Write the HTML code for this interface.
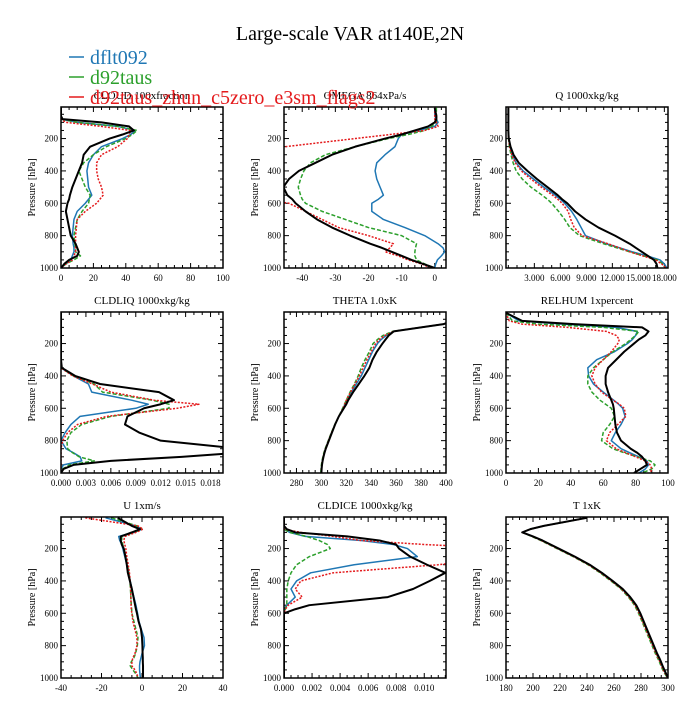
<!DOCTYPE html>
<html><head><meta charset="utf-8"><style>
html,body{margin:0;padding:0;background:#fff;}
svg text{font-family:"Liberation Serif",serif;}
</style></head><body>
<svg id="chart" width="700" height="700" viewBox="0 0 700 700" xmlns="http://www.w3.org/2000/svg">
<rect width="700" height="700" fill="#fff"/>
<text x="350" y="40" text-anchor="middle" font-size="20">Large-scale VAR at140E,2N</text>
<g id="panels"></g>
<g>
<g><line x1="69" y1="57" x2="84" y2="57" stroke="#1f77b4" stroke-width="1.5"/><text x="90" y="64" font-size="20" fill="#1f77b4">dflt092</text></g>
<g><line x1="69" y1="77" x2="84" y2="77" stroke="#2ca02c" stroke-width="1.5"/><text x="90" y="84" font-size="20" fill="#2ca02c">d92taus</text></g>
<g><line x1="69" y1="97" x2="84" y2="97" stroke="#e41a1c" stroke-width="1.5"/><text x="90" y="104" font-size="20" fill="#e41a1c">d92taus_zhun_c5zero_e3sm_flags2</text></g>
</g>
</svg>
<script>
const levels = [10,60,80,100,125,150,175,200,250,300,350,400,450,500,550,575,600,650,700,750,800,850,875,900,925,950,975,1000];

const cloudBlack = [0,0,1,25,42,45,38,30,18,14,13,11,9,7,5.5,5,4,3,4,5,6,9,10,11,10,5,2,0];
const cloudBlue  = [0,0,0,10,35,46,43,38,25,20,17,16,16.5,17,19,17,15,10,8,7.5,7,7.5,8,8,7,6,3,0];
const cloudGreen = [0,0,0,10,35,47,44,40,28,20,14,11,13,15,18,17.5,17,13,10,9,8,8.5,9,9,12,8,3,0];
const cloudRed   = [0,0,0,3,25,43,42,41,35,25,22,22,23,25,26,24,22,15,10,9.5,9,9,9,9,8,7,3,0];

const omegaBlack = [0,0.5,0.5,0,-2,-6,-10,-15,-24,-31,-36,-41,-44,-45.7,-44.5,-43,-42,-39,-35.5,-31,-25.5,-19.5,-16,-13,-10,-7,-3.5,0];
const omegaBlue  = [0,0,0.5,1,0,-5,-10,-11,-12,-15,-17.5,-18,-17.5,-16.5,-15.5,-17,-19,-19,-15.5,-9,-3,1,2.5,3,2,0.8,0.3,0];
const omegaGreen = [0.5,0.5,0.5,0.5,-1,-3,-8,-14,-24,-33,-37.5,-39.5,-40.5,-41.2,-40.5,-40,-39,-34,-27,-20,-10,-5.5,-5.8,-6,-6,-5.5,-3,0];
const omegaRed   = [0,0,0,0.5,1,-3,-13.5,-24,-45,-65,-65,-65,-65,-65,-60,-52,-44,-39,-34,-29,-20,-12.5,-13.5,-15,-11,-8,-4,-1];

const qBlack = [0,0,0,0,0,0,0.02,0.05,0.25,0.6,1.2,2.2,3.3,4.5,5.7,6.2,6.8,7.7,8.9,10.4,12.3,14.0,14.7,15.4,16.1,16.8,17.1,17.2];
const qBlue  = [0,0,0,0,0,0,0.01,0.03,0.2,0.45,0.9,1.7,2.9,4.1,5.4,6.0,6.5,7.3,7.9,8.4,8.9,11.3,12.8,14.3,16.0,17.5,18.0,18.3];
const qGreen = [0,0,0,0,0,0,0.01,0.02,0.12,0.3,0.55,0.9,1.6,2.6,3.9,4.5,5.0,5.8,6.5,7.1,8.2,11.0,12.5,14.0,15.6,17.2,17.8,18.1];
const qRed   = [0,0,0,0,0,0,0.01,0.02,0.15,0.4,0.8,1.5,2.6,3.8,5.1,5.7,6.2,6.9,7.2,7.6,8.5,11.5,12.8,14.0,15.5,17.0,17.7,18.2];

const liqBlack = [0,0,0,0,0,0,0,0,0,0,0.0001,0.0017,0.0047,0.0118,0.0136,0.0120,0.0100,0.0080,0.0077,0.0094,0.0120,0.0215,0.0215,0.0145,0.0060,0.0015,0.0003,0];
const liqBlue  = [0,0,0,0,0,0,0,0,0,0,0,0.0015,0.0033,0.0037,0.0085,0.0105,0.0090,0.0023,0.0012,0.0005,0,0.0006,0.0015,0.0023,0.0025,0.0003,0,0];
const liqGreen = [0,0,0,0,0,0,0,0,0,0,0,0.0015,0.0040,0.0050,0.0110,0.0130,0.0130,0.0060,0.0025,0.0012,0.0007,0.0008,0.0014,0.0022,0.0040,0.0010,0.0002,0];
const liqRed   = [0,0,0,0,0,0,0,0,0,0,0,0.0014,0.0038,0.0060,0.0112,0.0166,0.0140,0.0055,0.0020,0.0008,0.0002,0,0,0,0,0,0,0];

const thetaBlack = [440,405,398,380,358,354,351.5,349,344.5,341,338.5,334.5,330,325.5,321.5,320,318,314,311,308.5,306,303.5,302.5,301.7,301,300.5,300.2,300];
const thetaBlue  = [440,405,398,380,358,352,348,345,341,338,335,332,328,324,320.5,319,317.5,314,311,308.2,305.7,303.3,302.3,301.5,300.8,300.3,300,299.8];
const thetaGreen = [440,405,398,380,357,349.5,345,341.5,338.5,335,332,329.5,326.5,323,320,318.5,317,314,310.8,308,305.5,303,302,301.2,300.5,300,299.7,299.5];
const thetaRed   = [440,405,398,380,358,351,346.5,343.5,340,336.5,333.5,330.5,327,323.5,320,318.8,317.5,314,311,308.2,305.7,303.3,302.3,301.5,300.8,300.3,300,299.8];

const rhBlack = [0,10,42,84,88,86,82,79,73,68,63,61.5,61.5,63,65,66,66.5,67,67.5,68.5,71,77,81,84,86,87,83,79];
const rhBlue  = [0,8,35,68,81,80,78,75,67,56,50.5,51,54,60,66.5,69.5,72,73.5,71,67.5,65,71,76.5,82,87,88,86,82];
const rhGreen = [0,4,20,60,82,80,77,74,66,60,54,50.5,50.5,53,58,61.5,65,67,64,60,59,66,73,81,89,92,90,84];
const rhRed   = [0,2,10,38,62,68,70,69,65,60,55,53,55,59,66,70,73,74,69,64,62,68,74,80,86,89,90,89];

const uBlack = [-12,-5,-1,-5,-10.5,-10.5,-10,-9,-8.2,-7.5,-7,-6,-5,-4.2,-3.4,-3,-2.5,-1.7,-0.5,0,0.2,0.3,0.4,0.4,0.5,0.5,0.5,0.5];
const uBlue  = [-18,-3,0,-4,-11.5,-11,-10,-9.5,-8.5,-7.5,-6.5,-5.8,-5,-4,-3,-2.6,-2.2,-1.5,-0.3,1,1.2,0,-0.5,-1,-1.2,-1.2,-1,-0.8];
const uGreen = [-15,-2.5,0,-4,-10,-10,-9.5,-9,-8,-7.2,-6.5,-6,-5.7,-5.5,-5.3,-5.1,-5,-4,-3,-2,-2.3,-3.2,-4,-5.3,-5.8,-4.5,-3,-2];
const uRed   = [-28,-2,0.5,-3,-8.5,-9,-8.5,-8,-7.5,-6.8,-6.2,-5.8,-5.6,-5.5,-5.4,-5.3,-5,-4.5,-3.5,-2.5,-2.5,-3.5,-4.5,-5,-5,-3.5,-2.5,-2];

const iceBlack = [0,0,0.0002,0.0008,0.0045,0.0068,0.0080,0.0082,0.0090,0.0102,0.0115,0.0104,0.0092,0.0074,0.0018,0.0008,0,0,0,0,0,0,0,0,0,0,0,0];
const iceBlue  = [0,0,0,0.0004,0.0015,0.0055,0.0078,0.0088,0.0095,0.0050,0.0019,0.0009,0.0005,0.0008,0.0002,0,0,0,0,0,0,0,0,0,0,0,0,0];
const iceGreen = [0,0,0,0.0004,0.0016,0.0025,0.0031,0.0033,0.0018,0.0009,0.0005,0.0003,0.0002,0.0002,0.0002,0.0001,0,0,0,0,0,0,0,0,0,0,0,0];
const iceRed   = [0,0,0,0.0012,0.0035,0.0055,0.0100,0.0160,0.0160,0.0110,0.0035,0.0012,0.0008,0.0013,0.0003,0.0001,0,0,0,0,0,0,0,0,0,0,0,0];

const tBlack = [240,208,198,192,200,207,213,219,231,242,251,259,266.5,272,276.5,278,279.5,282,284.5,287,289.5,292,293.5,294.8,296,297.3,298.7,300];
const tBlue  = [240,208,198,192,199.6,206.6,212.6,218.6,230.6,241.6,250.6,258.6,266.1,271.6,276.1,277.6,279.1,281.6,284.1,286.6,289.1,291.6,293.1,294.4,295.6,296.9,298.4,299.8];
const tGreen = [240,208,198,192,199,205.7,211.7,217.7,229.7,240.7,249.7,257.7,265.2,270.7,275.2,276.7,278.2,280.7,283.2,285.7,288.2,290.7,292.2,293.6,294.8,296.1,297.8,299.6];
const tRed   = [240,208,198,192,199.4,206.2,212.2,218.2,230.2,241.2,250.2,258.2,265.7,271.2,275.7,277.2,278.7,281.2,283.7,286.2,288.7,291.2,292.7,294.0,295.2,296.5,298.1,299.7];

const cloudTicks = ["0","20","40","60","80","100"];
const omegaTicks = ["-40","-30","-20","-10","0"];
const qTicks = ["3.000","6.000","9.000","12.000","15.000","18.000"];
const liqTicks = ["0.000","0.003","0.006","0.009","0.012","0.015","0.018"];
const thetaTicks = ["280","300","320","340","360","380","400"];
const rhTicks = ["0","20","40","60","80","100"];
const uTicks = ["-40","-20","0","20","40"];
const iceTicks = ["0.000","0.002","0.004","0.006","0.008","0.010"];
const tTicks = ["180","200","220","240","260","280","300"];
const pTicks = [200,400,600,800,1000];

const NS = "http://www.w3.org/2000/svg";
const W = 162, H = 161, P_TOP = 5, P_BOT = 1000;
const COL = {blue:"#1f77b4", green:"#2ca02c", red:"#e41a1c", black:"#000"};

const panels = [
 {name:"cloud", title:"CLOUD  100xfraction", x:61, y:107, xmin:0, xmax:100, ticks:cloudTicks, minor:5, s:[cloudBlue,cloudGreen,cloudRed,cloudBlack]},
 {name:"omega", title:"OMEGA  864xPa/s", x:284, y:107, xmin:-45.5, xmax:3.4, ticks:omegaTicks, minor:2, s:[omegaBlue,omegaGreen,omegaRed,omegaBlack]},
 {name:"q", title:"Q  1000xkg/kg", x:506, y:107, xmin:-0.27, xmax:18.42, ticks:qTicks, minor:1, s:[qBlue,qGreen,qRed,qBlack]},
 {name:"cldliq", title:"CLDLIQ  1000xkg/kg", x:61, y:312, xmin:0, xmax:0.0195, ticks:liqTicks, minor:0.001, s:[liqBlue,liqGreen,liqRed,liqBlack]},
 {name:"theta", title:"THETA  1.0xK", x:284, y:312, xmin:270, xmax:400, ticks:thetaTicks, minor:5, s:[thetaBlue,thetaGreen,thetaRed,thetaBlack]},
 {name:"relhum", title:"RELHUM  1xpercent", x:506, y:312, xmin:0, xmax:100, ticks:rhTicks, minor:5, s:[rhBlue,rhGreen,rhRed,rhBlack]},
 {name:"u", title:"U  1xm/s", x:61, y:517, xmin:-40, xmax:40, ticks:uTicks, minor:5, s:[uBlue,uGreen,uRed,uBlack]},
 {name:"cldice", title:"CLDICE  1000xkg/kg", x:284, y:517, xmin:0, xmax:0.01155, ticks:iceTicks, minor:0.0005, s:[iceBlue,iceGreen,iceRed,iceBlack]},
 {name:"t", title:"T  1xK", x:506, y:517, xmin:180, xmax:300, ticks:tTicks, minor:5, s:[tBlue,tGreen,tRed,tBlack]}
];
const seriesNames = ["dflt092","d92taus","d92taus-zhun","reference"];
const seriesCol = [COL.blue, COL.green, COL.red, COL.black];
const seriesDash = ["", "4,2", "2,1.5", ""];
const seriesW = [1.5,1.5,1.5,2];

function mk(tag, attrs, parent){ const e=document.createElementNS(NS,tag); for(const k in attrs) e.setAttribute(k,attrs[k]); parent.appendChild(e); return e; }

const root = document.getElementById("panels");
panels.forEach((pn, idx) => {
  const xs = v => pn.x + (v - pn.xmin) / (pn.xmax - pn.xmin) * W;
  const ys = p => pn.y + (p - P_TOP) / (P_BOT - P_TOP) * H;
  const g = mk("g", {}, root);
  
  
  const t = mk("text", {x: pn.x + W/2, y: pn.y - 8, "text-anchor":"middle", "font-size":"11"}, g);
  t.textContent = pn.title;
  
  
  const cp = mk("clipPath", {id:"clip"+idx}, g);
  mk("rect", {x:pn.x, y:pn.y, width:W, height:H}, cp);
  // ticks
  const tg = mk("g", {stroke:"#000", "stroke-width":"1"}, g);
  
  
  const first = Math.ceil(pn.xmin / pn.minor);
  for (let k = first; k * pn.minor <= pn.xmax + 1e-12; k++) {
    const v = k * pn.minor, X = xs(v);
    const isMajor = pn.ticks.some(s => Math.abs(parseFloat(s) - v) < pn.minor * 0.01);
    const L = isMajor ? 5 : 3;
    mk("line", {x1:X, y1:pn.y+H, x2:X, y2:pn.y+H-L}, tg);
    mk("line", {x1:X, y1:pn.y, x2:X, y2:pn.y+L}, tg);
  }
  for (let p = 50; p <= 1000; p += 50) {
    const Y = ys(p), L = (p % 200 === 0) ? 5 : 3;
    mk("line", {x1:pn.x, y1:Y, x2:pn.x+L, y2:Y}, tg);
    mk("line", {x1:pn.x+W, y1:Y, x2:pn.x+W-L, y2:Y}, tg);
  }
  pn.ticks.forEach(s => {
    const tx = mk("text", {x: xs(parseFloat(s)), y: pn.y + H + 13, "text-anchor":"middle", "font-size":"9"}, g);
    tx.textContent = s;
    
    
  });
  pTicks.forEach(p => {
    const ty = mk("text", {x: pn.x - 3, y: ys(p) + 3, "text-anchor":"end", "font-size":"9"}, g);
    ty.textContent = String(p);
    
    
  });
  const yt = mk("text", {x:0, y:0, "text-anchor":"middle", "font-size":"10", transform:`translate(${pn.x-26},${pn.y+H/2}) rotate(-90)`}, g);
  yt.textContent = "Pressure [hPa]";
  
  
  // series
  const sg = mk("g", {"clip-path":`url(#clip${idx})`, fill:"none"}, g);
  pn.s.forEach((arr, si) => {
    const d = arr.map((v, i) => (i ? "L" : "M") + xs(v).toFixed(2) + "," + ys(levels[i]).toFixed(2)).join(" ");
    const path = mk("path", {d:d, stroke:seriesCol[si], "stroke-width":seriesW[si], "stroke-linejoin":"round"}, sg);
    if (seriesDash[si]) path.setAttribute("stroke-dasharray", seriesDash[si]);
    
    
  });
  const frame = mk("rect", {x:pn.x, y:pn.y, width:W, height:H, fill:"none", stroke:"#000", "stroke-width":"1.5"}, g);
  
  
});
</script>
</body></html>
